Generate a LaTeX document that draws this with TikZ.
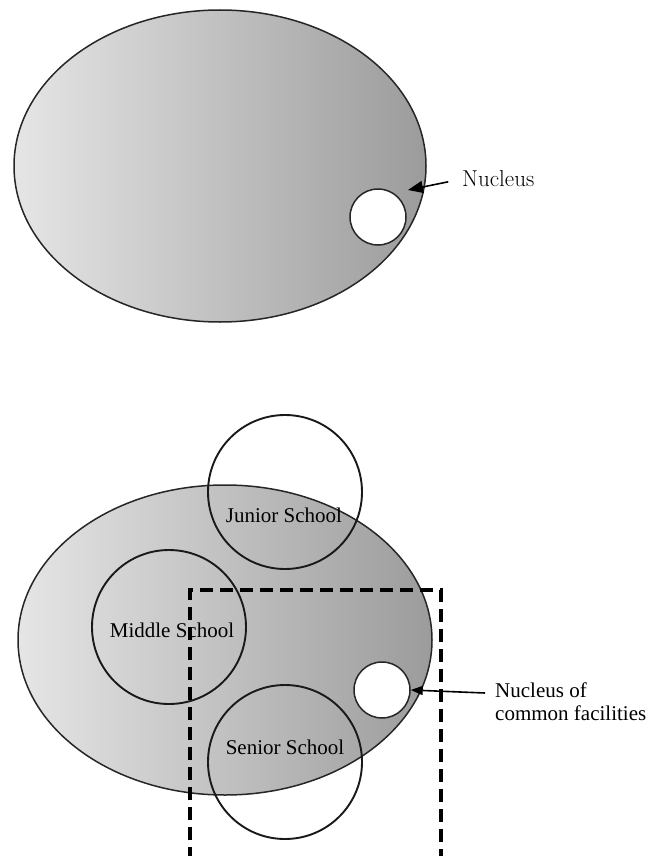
\documentclass[tikz,border=0pt]{standalone}
\usepackage{fontspec}
\newfontfamily\tnr{Liberation Serif}
\usetikzlibrary{shapes.geometric,arrows.meta}
\begin{document}
\begin{tikzpicture}[x=1pt,y=-1pt,
  cell/.style={ellipse, draw=black!85, line width=1.5pt, left color=gray!20, right color=gray!78, inner sep=0pt},
  school/.style={circle, draw=black!90, line width=1.9pt, minimum size=154pt, inner sep=0pt},
  hole/.style={circle, draw=black!85, fill=white, line width=1.5pt, minimum size=56pt, inner sep=0pt},
  lbl/.style={font=\tnr\fontsize{21}{23}\selectfont, inner sep=0pt},
  ptr/.style={-{Triangle[length=12pt,width=9pt]}, line width=1.6pt},
  boxline/.style={line width=3.6pt, dash pattern=on 13pt off 7pt}
]
\useasboundingbox (0,0) rectangle (652,856);
\clip (0,0) rectangle (652,856);
% top figure
\node[cell, minimum width=412pt, minimum height=312pt] (cell1) at (220,166) {};
\node[hole] (nuc1) at (378,217) {};
\node[anchor=west, inner sep=0pt, font=\fontsize{23}{25}\selectfont] (nuclab1) at (462,179) {Nucleus};
\coordinate (tip1) at (408,190);
\draw[ptr, -{Triangle[length=15pt,width=12pt]}, shorten <=14pt] (nuclab1.west) -- (tip1);
% bottom figure
\node[cell, minimum width=414pt, minimum height=310pt] (cell2) at (225,640) {};
\node[school] (junior) at (285,492) {};
\node[school] (middle) at (169,627) {};
\node[school] (senior) at (285,762) {};
\node[hole] (nuc2) at (382,690) {};
\node[lbl] (jt) at (284,515) {Junior School};
\node[lbl] (mt) at (172,630) {Middle School};
\node[lbl] (st) at (285,747) {Senior School};
\coordinate (b1) at (190,880);
\coordinate (b2) at (190,590);
\coordinate (b3) at (441,590);
\coordinate (b4) at (441,880);
\draw[boxline] (b1) -- (b2) -- (b3) -- (b4);
\node[lbl, anchor=west, align=left] (nuclab2) at (495,702) {Nucleus of\\common facilities};
\coordinate (tail2) at (485,693);
\draw[ptr] (tail2) -- (nuc2.east);
\end{tikzpicture}
\end{document}
